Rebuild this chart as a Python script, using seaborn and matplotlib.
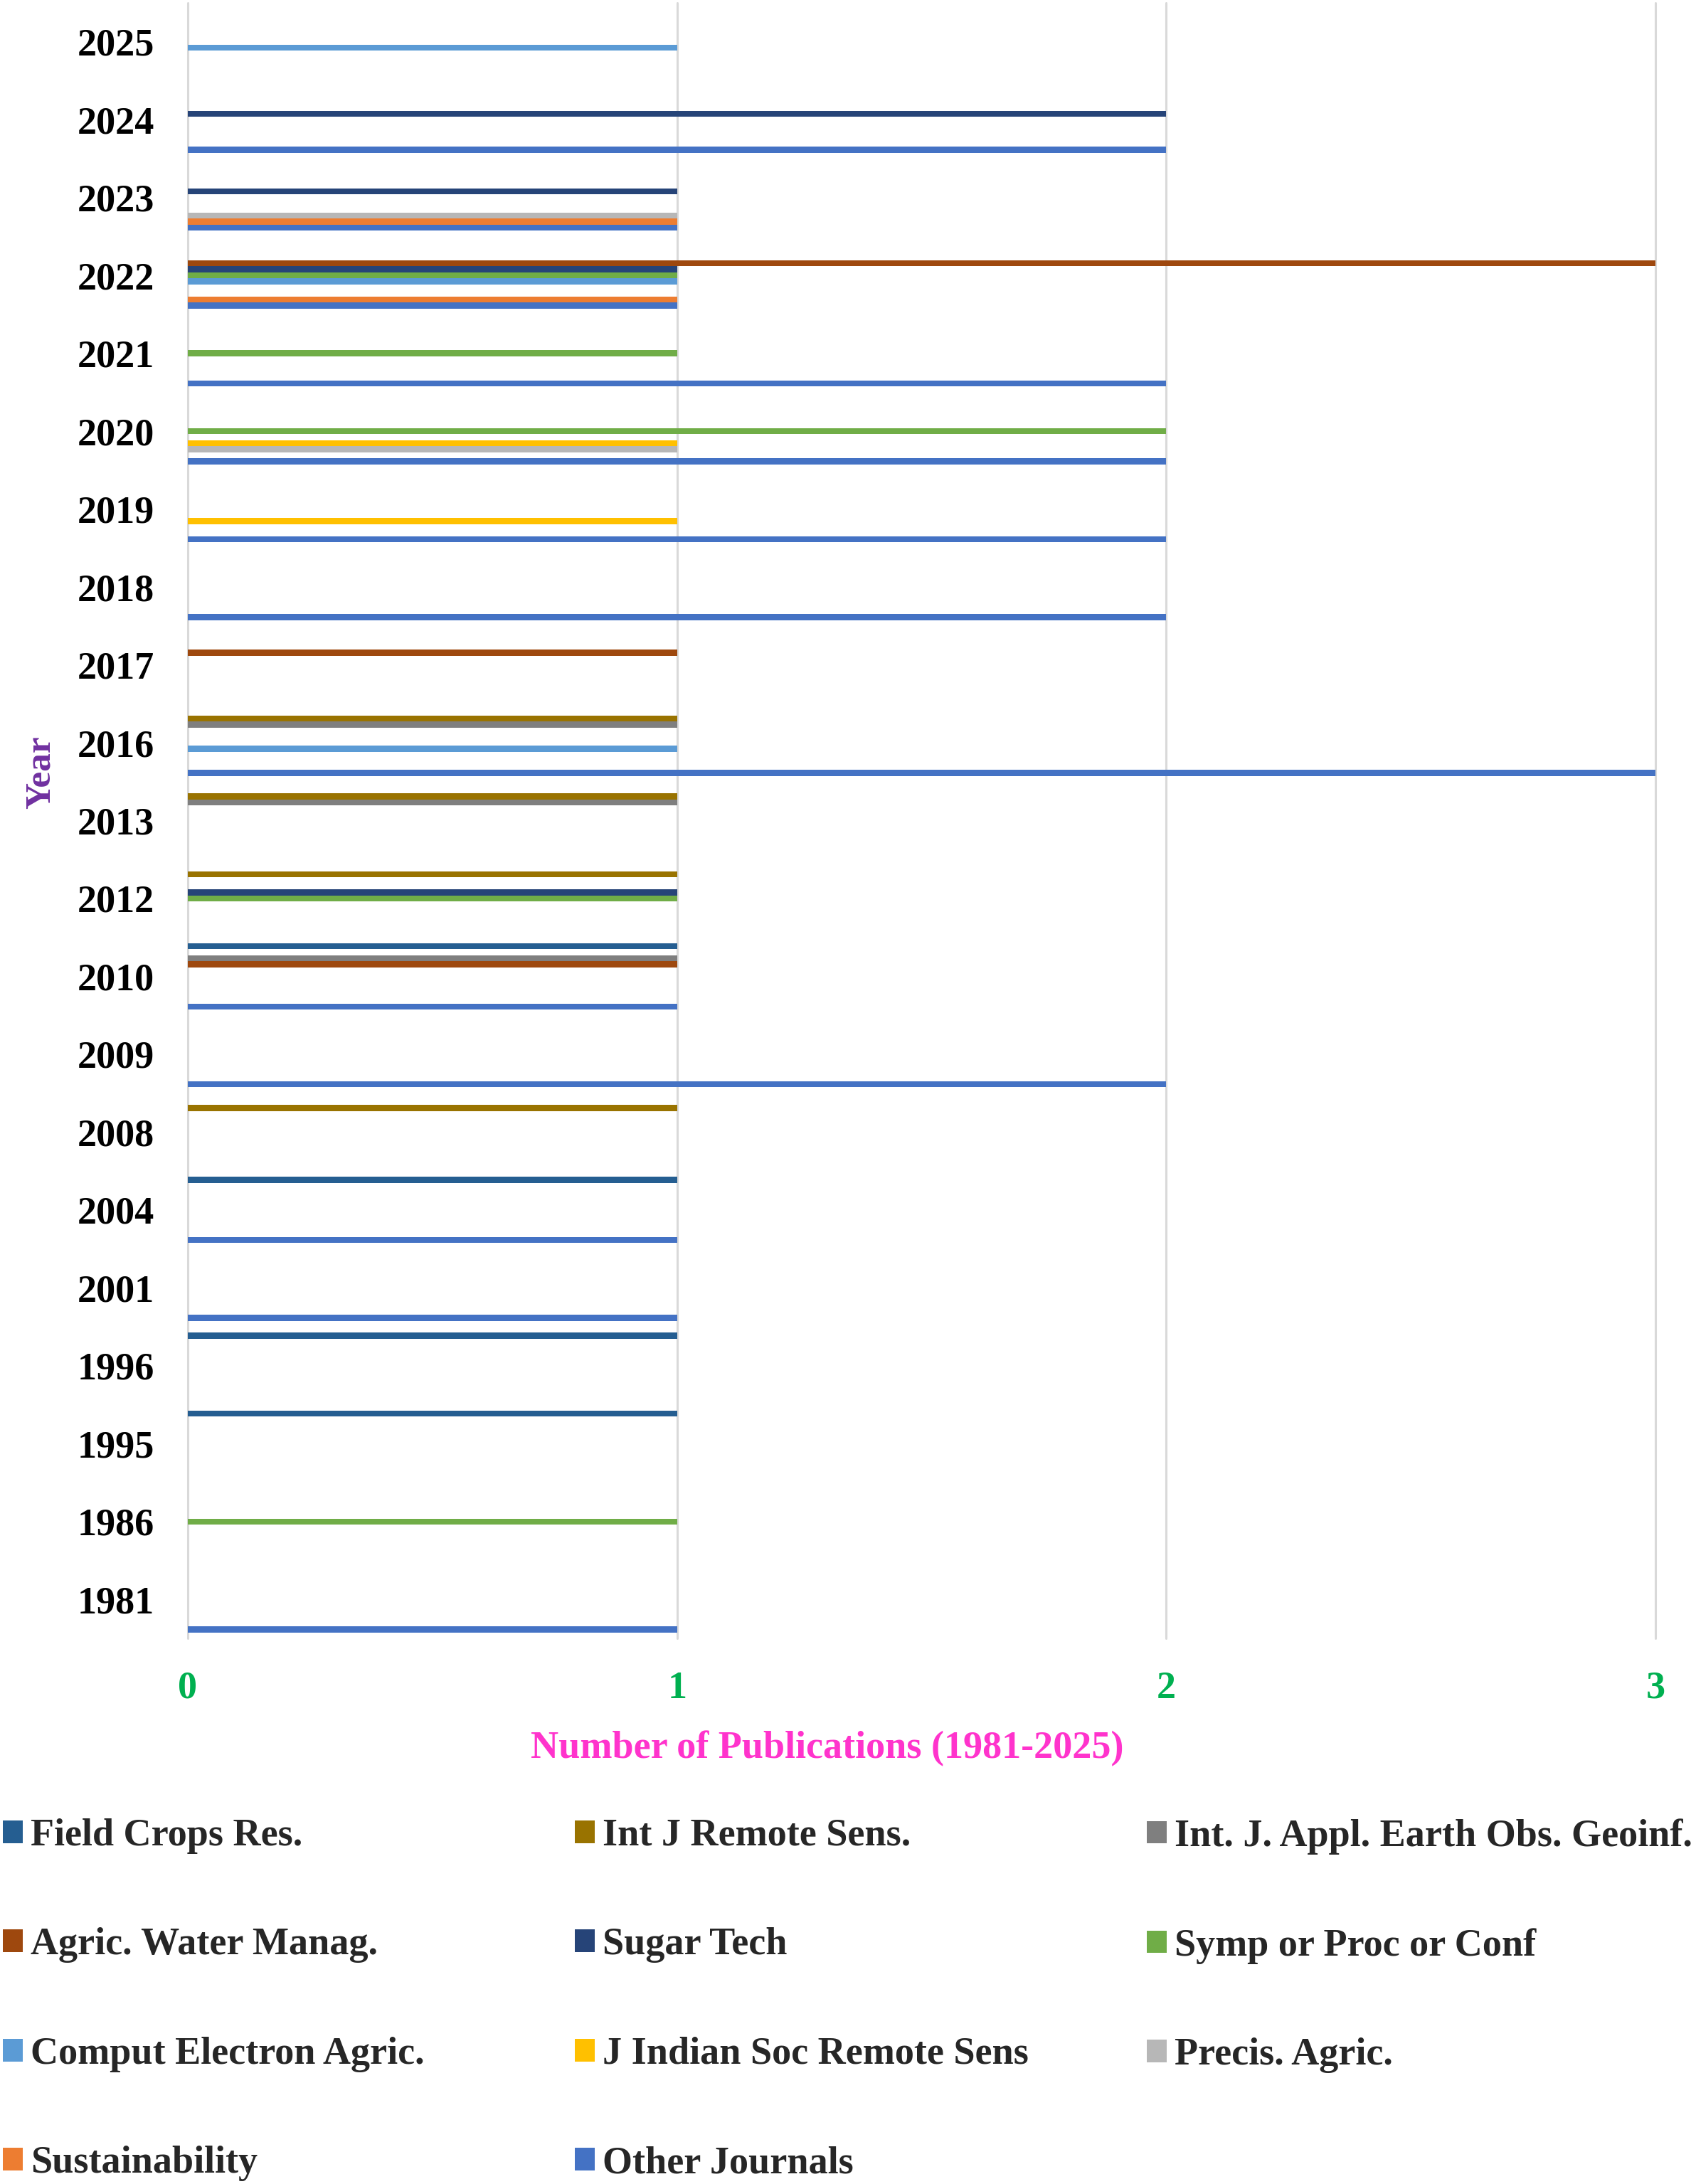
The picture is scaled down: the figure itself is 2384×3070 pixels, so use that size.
import matplotlib
matplotlib.use("Agg")
import matplotlib.pyplot as plt
from matplotlib.patches import Patch
import seaborn as sns
import pandas as pd

# ---------------- data ----------------
years = ["2025", "2024", "2023", "2022", "2021", "2020", "2019", "2018", "2017",
         "2016", "2013", "2012", "2010", "2009", "2008", "2004", "2001", "1996",
         "1995", "1986", "1981"]

journals = ["Field Crops Res.", "Int J Remote Sens.", "Int. J. Appl. Earth Obs. Geoinf.",
            "Agric. Water Manag.", "Sugar Tech", "Symp or Proc or Conf",
            "Comput Electron Agric.", "J Indian Soc Remote Sens", "Precis. Agric.",
            "Sustainability", "Other Journals"]

field_crops_res = [0, 0, 0, 0, 0, 0, 0, 0, 0, 0, 0, 0, 1, 0, 0, 1, 0, 1, 1, 0, 0]
int_j_remote_sens = [0, 0, 0, 0, 0, 0, 0, 0, 0, 1, 1, 1, 0, 0, 1, 0, 0, 0, 0, 0, 0]
int_j_appl_earth = [0, 0, 0, 0, 0, 0, 0, 0, 0, 1, 1, 0, 1, 0, 0, 0, 0, 0, 0, 0, 0]
agric_water_manag = [0, 0, 0, 3, 0, 0, 0, 0, 1, 0, 0, 0, 1, 0, 0, 0, 0, 0, 0, 0, 0]
sugar_tech = [0, 2, 1, 1, 0, 0, 0, 0, 0, 0, 0, 1, 0, 0, 0, 0, 0, 0, 0, 0, 0]
symp_proc_conf = [0, 0, 0, 1, 1, 2, 0, 0, 0, 0, 0, 1, 0, 0, 0, 0, 0, 0, 0, 1, 0]
comput_electron = [1, 0, 0, 1, 0, 0, 0, 0, 0, 1, 0, 0, 0, 0, 0, 0, 0, 0, 0, 0, 0]
j_indian_soc = [0, 0, 0, 0, 0, 1, 1, 0, 0, 0, 0, 0, 0, 0, 0, 0, 0, 0, 0, 0, 0]
precis_agric = [0, 0, 1, 0, 0, 1, 0, 0, 0, 0, 0, 0, 0, 0, 0, 0, 0, 0, 0, 0, 0]
sustainability = [0, 0, 1, 1, 0, 0, 0, 0, 0, 0, 0, 0, 0, 0, 0, 0, 0, 0, 0, 0, 0]
other_journals = [0, 2, 1, 1, 2, 2, 2, 2, 0, 3, 0, 0, 1, 2, 0, 1, 1, 0, 0, 0, 1]

colors = ["#255E91", "#997300", "#7F7F7F", "#9E480E", "#264478", "#70AD47",
          "#5B9BD5", "#FFC000", "#B7B7B7", "#ED7D31", "#4472C4"]

x_ticks = [0, 1, 2, 3]

series = [field_crops_res, int_j_remote_sens, int_j_appl_earth, agric_water_manag,
          sugar_tech, symp_proc_conf, comput_electron, j_indian_soc, precis_agric,
          sustainability, other_journals]

rows = []
for name, vals in zip(journals, series):
    for y, v in zip(years, vals):
        rows.append({"Year": y, "Journal": name, "Count": v})
df = pd.DataFrame(rows)

# ---------------- style ----------------
sns.set_theme(style="white")
plt.rcParams["font.family"] = ["Liberation Serif", "DejaVu Serif"]
plt.rcParams["font.weight"] = "bold"

FS = 39
W, H = 2384, 3070
fig = plt.figure(figsize=(W / 100, H / 100), dpi=100)
left, right = 264 / W, 2327 / W
top, bottom = 1 - 4 / H, 1 - 2303 / H
ax = fig.add_axes([left, bottom, right - left, top - bottom])

sns.barplot(data=df, x="Count", y="Year", hue="Journal", order=years,
            hue_order=journals, palette=colors, orient="h", width=0.85,
            errorbar=None, linewidth=0, saturation=1, dodge=True,
            legend=False, ax=ax)

ax.set_xlim(0, 3)
ax.set_ylim(len(years) - 0.5, -0.5)
ax.set_xticks(x_ticks)
ax.set_xticklabels([str(t) for t in x_ticks])
for s in ax.spines.values():
    s.set_visible(False)
ax.set_axisbelow(True)
ax.grid(axis="x", color="#D9D9D9", linewidth=2.2)
ax.grid(axis="y", visible=False)
for gl in ax.get_xgridlines():
    gl.set_clip_on(False)
ax.tick_params(axis="both", length=0)
ax.tick_params(axis="y", pad=34, labelsize=FS, labelcolor="black")
ax.tick_params(axis="x", pad=33, labelsize=FS, labelcolor="#00B050")
for lab in ax.get_yticklabels() + ax.get_xticklabels():
    lab.set_fontweight("bold")

ax.set_xlabel("Number of Publications (1981-2025)", fontsize=FS,
              fontweight="bold", color="#FF33CC")
ax.xaxis.set_label_coords((1163 - 264) / 2063, -155 / 2299)
ax.xaxis.label.set_va("center")
ax.set_ylabel("Year", fontsize=37, fontweight="bold", color="#7030A0")
ax.yaxis.set_label_coords((58 - 264) / 2063, (2303 - 1086) / 2299)
ax.yaxis.label.set_va("center")

# ---------------- legend (3 equal-width columns, row-major order) ----------------
col_x = [4 / W, 808 / W, 1612 / W]
handles = [Patch(facecolor=c, edgecolor="none") for c in colors]
for ci in range(3):
    idx = list(range(ci, len(journals), 3))
    fig.legend([handles[i] for i in idx], [journals[i] for i in idx],
               loc="upper left", bbox_to_anchor=(col_x[ci], 1 - 2556 / H),
               frameon=False, ncol=1, prop={"size": FS, "weight": "bold"},
               handlelength=0.52, handleheight=0.52, handletextpad=0.2,
               borderpad=0, borderaxespad=0, labelspacing=1.91)

fig.savefig("out.png", dpi=100, facecolor="white")
